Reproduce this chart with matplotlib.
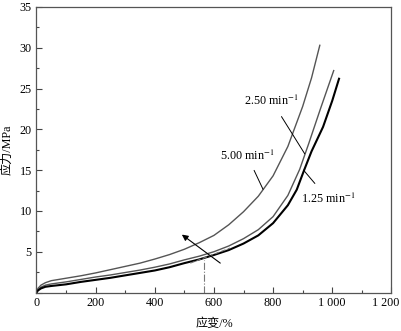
import matplotlib
matplotlib.use("Agg")
import matplotlib.pyplot as plt
import matplotlib.transforms as mtransforms
from matplotlib.ticker import MultipleLocator, FuncFormatter

plt.rcParams["font.family"] = ["Liberation Serif", "Noto Sans CJK SC"]
plt.rcParams["mathtext.fontset"] = "stix"

# stress-strain curves (strain %, stress MPa)
strain_500 = [0, 5, 15, 30, 50, 100, 150, 200, 250, 300, 350, 400, 450, 500, 550,
              600, 650, 700, 750, 800, 850, 900, 930, 958]
stress_500 = [0, 0.5, 0.9, 1.2, 1.45, 1.75, 2.05, 2.4, 2.8, 3.2, 3.6, 4.1, 4.65, 5.3, 6.1,
              7.0, 8.3, 9.9, 11.8, 14.3, 17.9, 22.8, 26.3, 30.3]

strain_250 = [0, 5, 15, 30, 50, 100, 150, 200, 250, 300, 350, 400, 450, 500, 550,
              600, 650, 700, 750, 800, 850, 890, 920, 960, 1005]
stress_250 = [0, 0.35, 0.65, 0.9, 1.05, 1.3, 1.6, 1.9, 2.15, 2.45, 2.75, 3.1, 3.5, 4.0, 4.45,
              5.0, 5.7, 6.6, 7.7, 9.3, 11.9, 15.1, 18.2, 22.5, 27.2]

strain_125 = [0, 5, 15, 30, 50, 100, 150, 200, 250, 300, 350, 400, 450, 500, 550,
              600, 650, 700, 750, 800, 850, 880, 905, 930, 969, 1000, 1023]
stress_125 = [0, 0.25, 0.5, 0.7, 0.8, 1.0, 1.3, 1.55, 1.8, 2.1, 2.4, 2.7, 3.1, 3.6, 4.05,
              4.6, 5.2, 6.0, 7.0, 8.5, 10.7, 12.6, 15.0, 17.3, 20.3, 23.5, 26.2]

tangent_x = [520, 655]
tangent_y = [3.6, 5.45]
mark_x = 566
mark_y = 4.0

fig = plt.figure(figsize=(4.01, 3.31), dpi=100)
ax = fig.add_axes([0.091, 0.1163, 0.885, 0.8627])

ax.plot(strain_500, stress_500, color="#555555", lw=1.0)
ax.plot(strain_250, stress_250, color="#555555", lw=1.0)
ax.plot(strain_125, stress_125, color="black", lw=1.5)
ax.plot(tangent_x, tangent_y, color="#777777", lw=0.8, ls=(0, (4, 2)))
ax.plot([mark_x, mark_x], [0, mark_y], color="#777777", lw=0.8, ls="-.")

ax.annotate("", xy=(484, 7.3), xytext=(629, 3.4),
            arrowprops=dict(arrowstyle="-|>", color="black", lw=0.8, mutation_scale=9))

fs = 8.7
ax.annotate("5.00 min$^{-1}$", xy=(766, 12.65), xytext=(712, 16.8),
            ha="center", va="center", fontsize=fs,
            arrowprops=dict(arrowstyle="-", color="black", lw=0.7, shrinkA=4, shrinkB=0))
ax.annotate("2.50 min$^{-1}$", xy=(907, 17.0), xytext=(795, 23.5),
            ha="center", va="center", fontsize=fs,
            arrowprops=dict(arrowstyle="-", color="black", lw=0.7, shrinkA=5, shrinkB=0))
ax.annotate("1.25 min$^{-1}$", xy=(903, 15.0), xytext=(985, 11.5),
            ha="center", va="center", fontsize=fs,
            arrowprops=dict(arrowstyle="-", color="black", lw=0.7, shrinkA=5, shrinkB=0))

ax.set_xlim(0, 1200)
ax.set_ylim(0, 35)
ax.set_xticks([0, 200, 400, 600, 800, 1000, 1200])
ax.xaxis.set_minor_locator(MultipleLocator(100))
ax.yaxis.set_major_locator(MultipleLocator(5))
ax.yaxis.set_minor_locator(MultipleLocator(2.5))
ax.xaxis.set_major_formatter(FuncFormatter(lambda v, p: f"{int(v):,}".replace(",", " ")))
ax.yaxis.set_major_formatter(FuncFormatter(lambda v, p: "" if v == 0 else f"{int(v)}"))
ax.tick_params(which="both", direction="in", top=False, right=False,
               labelsize=fs, color="#444444")
ax.tick_params(which="major", length=4, width=0.8)
ax.tick_params(which="minor", length=2.5, width=0.8)
for s in ax.spines.values():
    s.set_color("#555555")
    s.set_linewidth(0.9)

# last x label sits a bit left of its tick so it stays inside the figure
last = ax.xaxis.get_major_ticks()[-1].label1
last.set_horizontalalignment("right")
last.set_transform(last.get_transform() + mtransforms.ScaledTranslation(7.5 / 100, 0, fig.dpi_scale_trans))

ax.set_xlabel("应变/%", fontsize=fs, labelpad=6)
ax.set_ylabel("应力/MPa", fontsize=fs, labelpad=4)

fig.savefig("out.png", dpi=100)
